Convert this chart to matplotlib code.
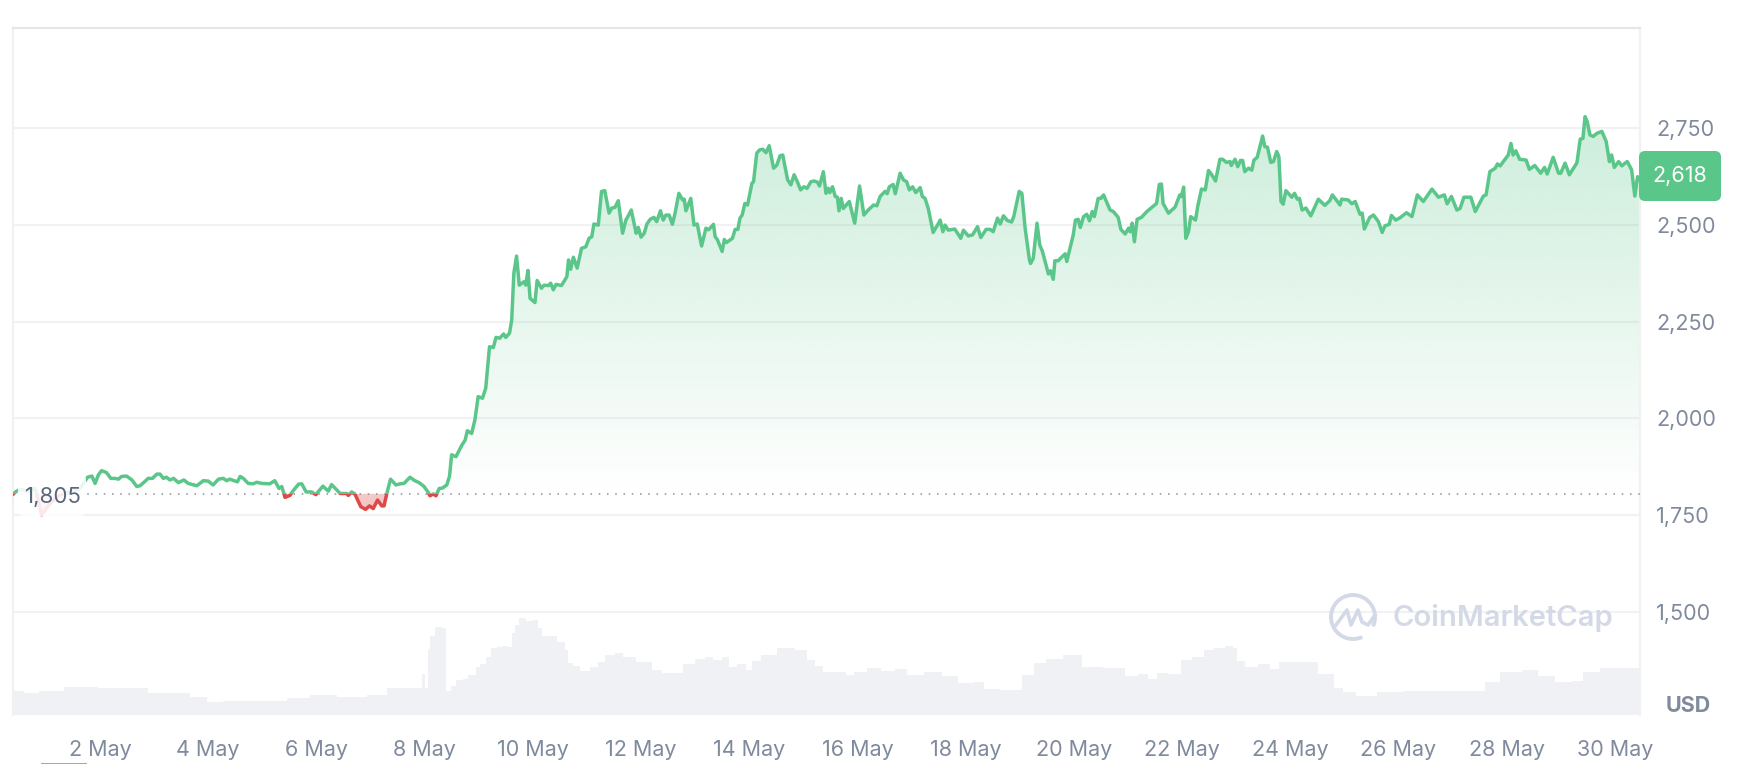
import numpy as np
import matplotlib
matplotlib.use('Agg')
import matplotlib.pyplot as plt
from matplotlib.lines import Line2D
from matplotlib.patches import Arc, FancyBboxPatch, PathPatch, Rectangle
from matplotlib.path import Path

# day of May, price in USD
price_days = [
    0.40, 0.45, 0.53, 0.68, 0.80, 0.92, 1.08, 1.26, 1.45, 1.63, 1.77, 1.85,
    1.91, 1.97, 2.03, 2.12, 2.20, 2.28, 2.34, 2.40, 2.49, 2.59, 2.68, 2.74,
    2.83, 2.89, 2.97, 3.05, 3.11, 3.17, 3.23, 3.29, 3.36, 3.45, 3.55, 3.63,
    3.79, 3.91, 4.00, 4.09, 4.19, 4.28, 4.34, 4.40, 4.54, 4.59, 4.65, 4.74,
    4.83, 4.90, 4.99, 5.14, 5.23, 5.31, 5.36, 5.42, 5.51, 5.57, 5.67, 5.73,
    5.81, 5.91, 5.99, 6.12, 6.22, 6.28, 6.39, 6.44, 6.56, 6.59, 6.65, 6.71,
    6.82, 6.91, 6.98, 7.05, 7.13, 7.21, 7.25, 7.30, 7.37, 7.47, 7.55, 7.62,
    7.73, 7.82, 7.90, 7.99, 8.07, 8.10, 8.16, 8.21, 8.27, 8.33, 8.41, 8.46,
    8.50, 8.58, 8.69, 8.75, 8.79, 8.87, 8.93, 8.99, 9.07, 9.13, 9.20, 9.27,
    9.32, 9.39, 9.46, 9.50, 9.57, 9.61, 9.65, 9.70, 9.75, 9.84, 9.87, 9.91,
    9.95, 10.04, 10.08, 10.16, 10.21, 10.29, 10.33, 10.38, 10.43, 10.53, 10.63, 10.66,
    10.70, 10.75, 10.82, 10.90, 10.98, 11.04, 11.09, 11.13, 11.21, 11.27, 11.33, 11.41,
    11.46, 11.52, 11.58, 11.66, 11.72, 11.75, 11.82, 11.91, 11.95, 12.00, 12.06, 12.11,
    12.17, 12.24, 12.29, 12.36, 12.41, 12.46, 12.52, 12.58, 12.63, 12.70, 12.77, 12.80,
    12.83, 12.92, 12.98, 13.04, 13.12, 13.20, 13.25, 13.34, 13.37, 13.41, 13.50, 13.54,
    13.58, 13.69, 13.74, 13.79, 13.83, 13.87, 13.92, 13.97, 14.05, 14.08, 14.14, 14.19,
    14.25, 14.31, 14.37, 14.45, 14.51, 14.57, 14.62, 14.71, 14.77, 14.83, 14.89, 14.95,
    15.01, 15.07, 15.14, 15.20, 15.26, 15.30, 15.37, 15.42, 15.46, 15.49, 15.54, 15.59,
    15.63, 15.66, 15.70, 15.74, 15.85, 15.95, 16.04, 16.12, 16.20, 16.30, 16.36, 16.42,
    16.51, 16.55, 16.59, 16.66, 16.70, 16.79, 16.85, 16.91, 16.96, 17.02, 17.08, 17.16,
    17.20, 17.25, 17.31, 17.40, 17.50, 17.53, 17.58, 17.62, 17.68, 17.80, 17.91, 17.96,
    18.05, 18.13, 18.22, 18.28, 18.38, 18.45, 18.51, 18.59, 18.64, 18.70, 18.77, 18.85,
    18.89, 18.99, 19.04, 19.10, 19.18, 19.20, 19.25, 19.32, 19.37, 19.42, 19.53, 19.57,
    19.62, 19.65, 19.71, 19.84, 19.87, 19.99, 20.03, 20.08, 20.12, 20.18, 20.24, 20.29,
    20.34, 20.38, 20.45, 20.50, 20.55, 20.67, 20.73, 20.82, 20.87, 20.95, 21.01, 21.04,
    21.08, 21.12, 21.17, 21.25, 21.35, 21.53, 21.58, 21.62, 21.65, 21.75, 21.87, 21.96,
    21.99, 22.03, 22.07, 22.12, 22.16, 22.25, 22.29, 22.36, 22.43, 22.49, 22.55, 22.62,
    22.70, 22.75, 22.82, 22.89, 22.91, 22.98, 23.03, 23.08, 23.12, 23.16, 23.23, 23.29,
    23.33, 23.39, 23.49, 23.53, 23.58, 23.64, 23.69, 23.75, 23.79, 23.83, 23.87, 23.92,
    24.03, 24.08, 24.13, 24.17, 24.22, 24.29, 24.38, 24.52, 24.64, 24.73, 24.78, 24.92,
    24.95, 25.07, 25.14, 25.20, 25.29, 25.33, 25.37, 25.47, 25.54, 25.63, 25.70, 25.75,
    25.83, 25.87, 25.95, 26.03, 26.15, 26.25, 26.31, 26.35, 26.46, 26.62, 26.74, 26.85,
    26.90, 26.98, 27.08, 27.14, 27.21, 27.34, 27.42, 27.57, 27.62, 27.69, 27.79, 27.83,
    27.88, 28.03, 28.08, 28.12, 28.17, 28.24, 28.36, 28.42, 28.52, 28.63, 28.70, 28.75,
    28.86, 28.96, 29.00, 29.08, 29.16, 29.30, 29.36, 29.41, 29.45, 29.49, 29.54, 29.60,
    29.67, 29.76, 29.84, 29.90, 29.94, 29.99, 30.07, 30.13, 30.19, 30.23, 30.31, 30.37,
    30.42, 30.45,
]
price_values = [
    1805, 1811, 1817, 1811, 1819, 1751, 1781, 1802, 1811, 1819, 1848, 1851,
    1832, 1854, 1865, 1860, 1845, 1845, 1843, 1850, 1851, 1841, 1824, 1826,
    1837, 1845, 1845, 1856, 1856, 1845, 1848, 1841, 1845, 1834, 1841, 1832,
    1826, 1839, 1838, 1828, 1843, 1845, 1839, 1843, 1836, 1850, 1845, 1832,
    1831, 1835, 1832, 1831, 1839, 1819, 1824, 1796, 1801, 1813, 1830, 1831,
    1810, 1810, 1803, 1825, 1812, 1829, 1813, 1806, 1806, 1801, 1810, 1805,
    1772, 1765, 1774, 1767, 1789, 1774, 1774, 1805, 1843, 1828, 1831, 1832,
    1848, 1839, 1834, 1824, 1808, 1800, 1805, 1800, 1819, 1820, 1828, 1850,
    1906, 1901, 1931, 1944, 1968, 1961, 1996, 2056, 2052, 2078, 2185, 2183,
    2209, 2207, 2218, 2209, 2220, 2254, 2375, 2419, 2344, 2353, 2344, 2382,
    2310, 2299, 2356, 2336, 2344, 2343, 2349, 2332, 2346, 2343, 2366, 2409,
    2385, 2416, 2388, 2439, 2443, 2465, 2469, 2502, 2499, 2586, 2588, 2530,
    2543, 2545, 2562, 2478, 2512, 2519, 2538, 2478, 2493, 2468, 2478, 2502,
    2514, 2519, 2508, 2536, 2512, 2525, 2525, 2501, 2530, 2581, 2564, 2566,
    2536, 2568, 2499, 2502, 2445, 2491, 2487, 2501, 2469, 2462, 2431, 2462,
    2454, 2465, 2488, 2488, 2517, 2525, 2555, 2551, 2607, 2611, 2685, 2693,
    2695, 2686, 2704, 2646, 2654, 2678, 2680, 2616, 2603, 2629, 2611, 2590,
    2598, 2594, 2611, 2613, 2610, 2600, 2637, 2581, 2594, 2583, 2598, 2573,
    2571, 2536, 2568, 2542, 2560, 2504, 2600, 2525, 2538, 2551, 2549, 2573,
    2586, 2580, 2598, 2604, 2580, 2633, 2616, 2611, 2590, 2598, 2583, 2596,
    2573, 2568, 2542, 2480, 2504, 2512, 2482, 2499, 2486, 2489, 2465, 2486,
    2471, 2474, 2495, 2467, 2488, 2488, 2482, 2517, 2502, 2523, 2511, 2507,
    2521, 2586, 2581, 2491, 2409, 2400, 2413, 2504, 2448, 2431, 2373, 2381,
    2359, 2407, 2407, 2425, 2405, 2474, 2512, 2514, 2493, 2521, 2527, 2510,
    2534, 2521, 2568, 2568, 2577, 2538, 2534, 2519, 2488, 2476, 2491, 2482,
    2504, 2456, 2514, 2519, 2534, 2555, 2604, 2605, 2555, 2530, 2545, 2577,
    2573, 2597, 2465, 2482, 2521, 2512, 2547, 2592, 2590, 2640, 2629, 2613,
    2669, 2669, 2661, 2663, 2653, 2669, 2650, 2666, 2666, 2637, 2646, 2641,
    2667, 2674, 2729, 2702, 2700, 2661, 2663, 2689, 2676, 2560, 2553, 2588,
    2571, 2581, 2566, 2568, 2538, 2543, 2523, 2566, 2550, 2562, 2577, 2551,
    2566, 2564, 2554, 2560, 2527, 2530, 2489, 2519, 2525, 2508, 2480, 2497,
    2501, 2524, 2512, 2518, 2531, 2521, 2554, 2577, 2560, 2592, 2571, 2577,
    2554, 2573, 2538, 2542, 2571, 2571, 2534, 2574, 2577, 2637, 2646, 2657,
    2652, 2680, 2710, 2680, 2691, 2669, 2667, 2643, 2653, 2633, 2648, 2631,
    2674, 2633, 2633, 2659, 2629, 2660, 2721, 2723, 2779, 2766, 2732, 2728,
    2736, 2741, 2715, 2663, 2680, 2648, 2663, 2652, 2659, 2663, 2642, 2574,
    2624, 2618,
]

# volume strip, only its shape is readable
volume_days = [
    0.37, 0.83, 0.92, 1.75, 2.18, 2.74, 3.05, 3.48, 3.85, 4.09, 4.46, 5.20,
    5.70, 6.07, 6.68, 7.18, 7.42, 7.91, 7.99, 8.04, 8.07, 8.13, 8.25, 8.38,
    8.40, 8.46, 8.50, 8.65, 8.78, 8.84, 8.93, 8.96, 9.09, 9.18, 9.27, 9.39,
    9.46, 9.58, 9.64, 9.70, 9.79, 9.95, 10.04, 10.16, 10.19, 10.35, 10.56, 10.63,
    10.68, 10.81, 10.93, 11.18, 11.24, 11.43, 11.61, 11.73, 12.10, 12.29, 12.47, 12.63,
    12.91, 13.09, 13.27, 13.40, 13.58, 13.68, 13.86, 14.01, 14.11, 14.32, 14.69, 15.00,
    15.12, 15.31, 15.43, 15.74, 15.83, 16.05, 16.29, 16.60, 16.79, 17.06, 17.40, 17.71,
    18.02, 18.30, 18.39, 18.91, 19.16, 19.37, 19.62, 19.99, 20.30, 20.79, 21.10, 21.28,
    21.47, 21.59, 21.90, 22.05, 22.33, 22.49, 22.70, 22.89, 23.00, 23.02, 23.32, 23.50,
    23.75, 23.84, 24.30, 24.74, 24.86, 25.10, 25.35, 25.85, 26.34, 27.51, 27.69, 28.06,
    28.49, 28.68, 29.11, 29.33, 29.48, 29.97, 30.45,
]
volume_values = [
    24, 22, 24, 28, 27, 27, 22, 22, 18, 13, 14, 14,
    17, 20, 18, 20, 27, 27, 41, 27, 66, 79, 88, 87,
    24, 24, 29, 35, 36, 40, 40, 48, 51, 58, 67, 68,
    69, 68, 82, 90, 97, 94, 95, 87, 79, 79, 73, 65,
    52, 49, 44, 48, 53, 60, 62, 58, 53, 45, 42, 42,
    51, 56, 58, 55, 58, 48, 51, 45, 54, 60, 67, 65,
    55, 49, 43, 43, 40, 43, 47, 44, 46, 40, 43, 39,
    32, 33, 26, 25, 40, 52, 56, 60, 48, 47, 39, 41,
    36, 42, 41, 55, 58, 65, 67, 69, 67, 54, 48, 51,
    46, 53, 53, 41, 27, 23, 19, 23, 24, 24, 33, 43,
    45, 39, 33, 34, 43, 47, 47,
]

price_ticks = [1500, 1750, 2000, 2250, 2500, 2750]
date_ticks = [2, 4, 6, 8, 10, 12, 14, 16, 18, 20, 22, 24, 26, 28, 30]
date_labels = ['%d May' % d for d in date_ticks]
base_price = 1805
last_price = 2618

GREEN = '#5BC68A'
RED = '#E04848'
TICK = '#808A9D'
LOGO = '#D3D9E6'

plt.rcParams['font.family'] = ['Inter', 'DejaVu Sans']

W, H = 1746, 764
fig = plt.figure(figsize=(W / 100, H / 100), dpi=100, facecolor='white')
left, right, top, bottom = 12.5, 1639.5, 28, 715
pos = [left / W, 1 - bottom / H, (right - left) / W, (bottom - top) / H]

xlim = (0.383, 30.456)
ylim = (1234, 3008)

vol_ax = fig.add_axes(pos, zorder=0)
vol_ax.fill_between(volume_days, volume_values, 0, color='#F0F1F5', lw=0, step='mid')
vol_ax.set_xlim(xlim)
vol_ax.set_ylim(0, bottom - top)
vol_ax.axis('off')

ax = fig.add_axes(pos, zorder=1)
ax.patch.set_alpha(0)
days = np.array(price_days)
prices = np.array(price_values)

ax.set_yticks(price_ticks)
ax.set_yticklabels(['{:,}'.format(p) for p in price_ticks])
ax.yaxis.tick_right()
ax.set_xticks(date_ticks)
ax.set_xticklabels(date_labels)
ax.tick_params(axis='y', length=0, pad=12, labelsize=15.5, labelcolor=TICK)
ax.tick_params(axis='x', length=0, pad=18, labelsize=15.5, labelcolor=TICK)
ax.grid(axis='y', color='#F2F2F4', lw=1.5, zorder=0)
ax.set_axisbelow(True)
for side in ['left', 'right']:
    ax.spines[side].set_color('#F1F1F1')
    ax.spines[side].set_linewidth(1.6)
ax.spines['top'].set_color('#E6E6E6')
ax.spines['top'].set_linewidth(1.6)
ax.spines['bottom'].set_visible(False)

# green gradient under the line, clipped to the area above the base price
above = ax.fill_between(days, prices, base_price, where=prices >= base_price,
                        interpolate=True, color='none', lw=0)
grad = np.zeros((256, 1, 4))
grad[..., 0], grad[..., 1], grad[..., 2] = matplotlib.colors.to_rgb(GREEN)
grad[:, 0, 3] = np.linspace(0.31, 0, 256)
im = ax.imshow(grad, extent=(xlim[0], xlim[1], base_price, 2780), aspect='auto',
               origin='upper', interpolation='bilinear', zorder=2)
im.set_clip_path(PathPatch(Path.make_compound_path(*above.get_paths()), transform=ax.transData))

ax.fill_between(days, prices, base_price, where=prices <= base_price,
                interpolate=True, color=RED, alpha=0.3, lw=0, zorder=2)

ax.axhline(base_price, color='#8A8F99', lw=1.1, ls=(0, (1, 4.4)), zorder=3)

green_line, = ax.plot(days, prices, color=GREEN, lw=2.5, solid_joinstyle='round', zorder=4)
red_line, = ax.plot(days, prices, color=RED, lw=2.5, solid_joinstyle='round', zorder=4)
green_line.set_clip_path(Rectangle((xlim[0], base_price), xlim[1] - xlim[0], ylim[1] - base_price,
                                   transform=ax.transData))
red_line.set_clip_path(Rectangle((xlim[0], ylim[0]), xlim[1] - xlim[0], base_price - ylim[0],
                                 transform=ax.transData))
ax.set_xlim(xlim)
ax.set_ylim(ylim)

# everything below sits at fixed screen positions, so plain pixels (y up)
def py(y):
    return H - y

fig.add_artist(FancyBboxPatch((18, py(516)), 68, 42, boxstyle='round,pad=0,rounding_size=6',
                              fc='white', ec='none', alpha=0.88, transform=None, zorder=5))
fig.text(53 / W, 1 - 497 / H, '{:,}'.format(base_price), color='#58667E', fontsize=16,
         ha='center', va='center', zorder=6)

fig.add_artist(FancyBboxPatch((1639, py(201)), 82, 50, boxstyle='round,pad=0,rounding_size=6',
                              fc=GREEN, ec='none', transform=None, zorder=5))
fig.text(1652 / W, 1 - 176 / H, '{:,}'.format(last_price), color='white', fontsize=15.5,
         ha='left', va='center', zorder=6)
fig.text(1688 / W, 1 - 706 / H, 'USD', color=TICK, fontsize=15.5, fontweight='bold',
         ha='center', va='center', zorder=6)

# CoinMarketCap watermark
fig.add_artist(Arc((1353, py(617)), 44, 44, theta1=-25, theta2=335 - 40, ec=LOGO, lw=2.8,
                   transform=None, zorder=5))
mark_x = [1336, 1347, 1351, 1358, 1362, 1368, 1375]
mark_y = [625, 610, 625, 610, 622, 625, 615]
fig.add_artist(Line2D(mark_x, [py(v) for v in mark_y], color=LOGO, lw=2.6,
                      solid_joinstyle='round', transform=None, zorder=5))
fig.text(1393 / W, 1 - 618 / H, 'CoinMarketCap', color=LOGO, fontsize=21, fontweight='semibold',
         ha='left', va='center', zorder=5)

fig.add_artist(Rectangle((41, 0), 46, 1.2, fc='#A8A8A8', ec='none', transform=None))

fig.savefig('out.png', dpi=100)
